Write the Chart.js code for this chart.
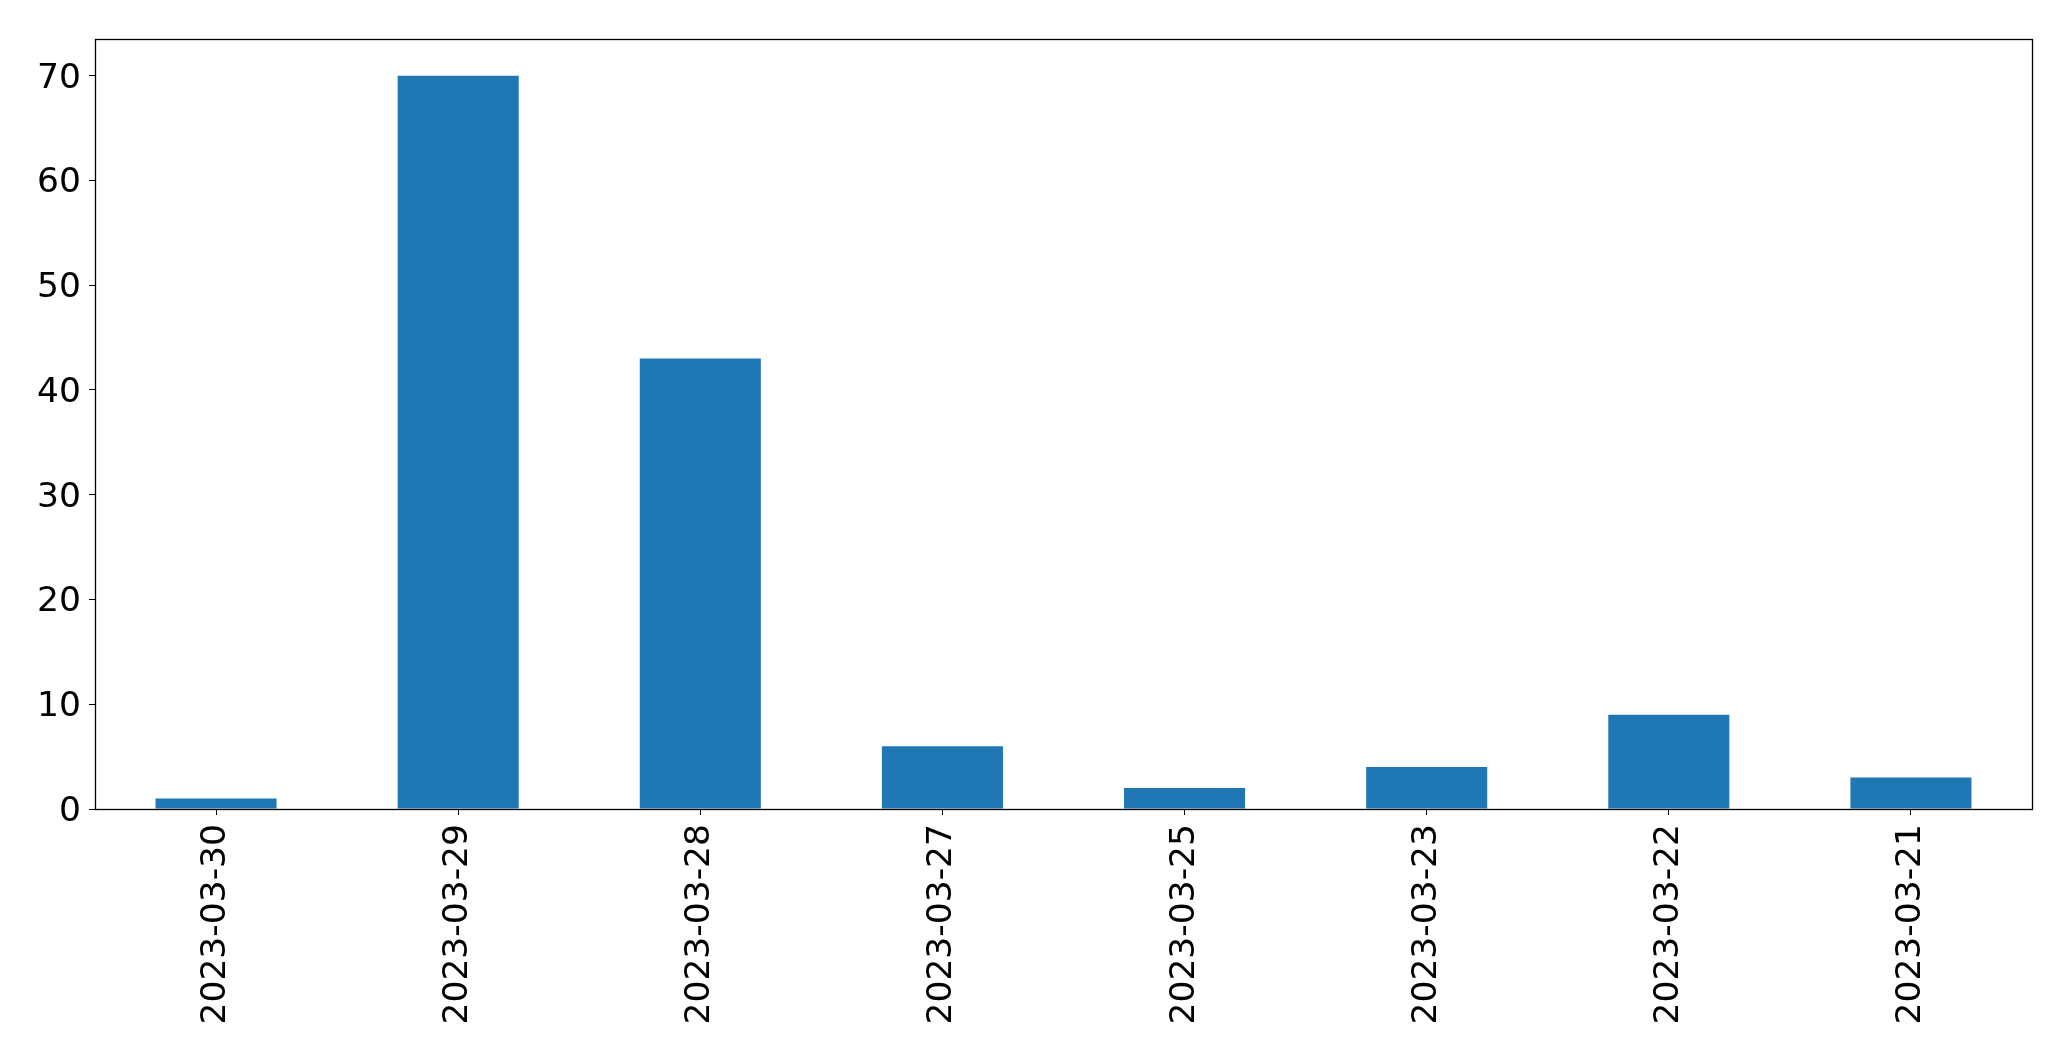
<!DOCTYPE html>
<html>
<head>
<meta charset="utf-8">
<script src="https://cdn.jsdelivr.net/npm/chart.js@4"></script>
<style>
html,body{margin:0;padding:0;background:#fff;}
#wrap{width:2071px;height:1061px;position:relative;}
</style>
</head>
<body>
<div id="wrap"><canvas id="c" width="2071" height="1061"></canvas></div>
<script>
const categories = ["2023-03-30","2023-03-29","2023-03-28","2023-03-27","2023-03-25","2023-03-23","2023-03-22","2023-03-21"];
const counts = [1, 70, 43, 6, 2, 4, 9, 3];
const yTicks = [0, 10, 20, 30, 40, 50, 60, 70];

const frame = {
  id: 'frame',
  afterDatasetsDraw(chart) {
    const a = chart.chartArea, ctx = chart.ctx;
    ctx.save();
    ctx.strokeStyle = '#000';
    ctx.lineWidth = 1.3;
    ctx.strokeRect(Math.round(a.left) + 0.5, Math.round(a.top) + 0.5, Math.round(a.right - a.left), Math.round(a.bottom - a.top));
    ctx.restore();
  }
};

new Chart(document.getElementById('c'), {
  type: 'bar',
  data: {
    labels: categories,
    datasets: [{
      data: counts,
      backgroundColor: '#1f77b4',
      borderWidth: 0,
      categoryPercentage: 1.0,
      barPercentage: 0.5
    }]
  },
  options: {
    responsive: false,
    animation: false,
    devicePixelRatio: 1,
    layout: { padding: { left: 0, right: 39, top: 39, bottom: 0 } },
    plugins: { legend: { display: false }, tooltip: { enabled: false } },
    scales: {
      x: {
        offset: true,
        grid: { display: true, offset: false, drawOnChartArea: false, tickLength: 6, tickColor: '#000', color: '#000' },
        border: { display: false },
        ticks: {
          color: '#000',
          font: { family: 'DejaVu Sans', size: 34.5 },
          minRotation: 90, maxRotation: 90,
          padding: 9,
          autoSkip: false
        },
        afterFit(scale) { scale.height = 252; }
      },
      y: {
        min: 0, max: 73.5,
        grid: { display: true, drawOnChartArea: false, tickLength: 6, tickColor: '#000', color: '#000' },
        border: { display: false },
        afterBuildTicks(scale) { scale.ticks = yTicks.map(v => ({ value: v })); },
        ticks: {
          color: '#000',
          font: { family: 'DejaVu Sans', size: 34.5 },
          padding: 8,
          labelOffset: 3
        },
        afterFit(scale) { scale.width = 95; }
      }
    }
  },
  plugins: [frame]
});
</script>
</body>
</html>
